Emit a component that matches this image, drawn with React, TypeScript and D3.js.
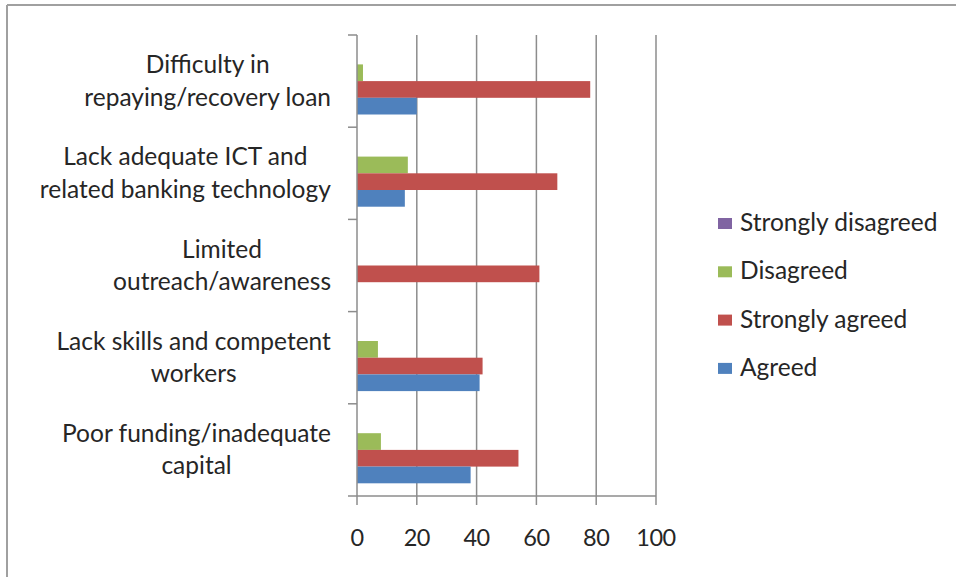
import React, { useEffect, useRef } from "react";
import * as d3 from "d3";

const categories = [
  "Difficulty in repaying/recovery loan",
  "Lack adequate ICT and related banking technology",
  "Limited outreach/awareness",
  "Lack skills and competent workers",
  "Poor funding/inadequate capital",
];
const categoryLines = [
  ["Difficulty in", "repaying/recovery loan"],
  ["Lack adequate ICT and", "related banking technology"],
  ["Limited", "outreach/awareness"],
  ["Lack skills and competent", "workers"],
  ["Poor funding/inadequate", "capital"],
];
const seriesNames = ["Strongly disagreed", "Disagreed", "Strongly agreed", "Agreed"];
const stronglyDisagreed = [0, 0, 0, 0, 0];
const disagreed = [2, 17, 0, 7, 8];
const stronglyAgreed = [78, 67, 61, 42, 54];
const agreed = [20, 16, 0, 41, 38];
const seriesValues = [stronglyDisagreed, disagreed, stronglyAgreed, agreed];
const seriesColors = ["#8064A2", "#9BBB59", "#C0504D", "#4F81BD"];
const xTicks = [0, 20, 40, 60, 80, 100];

const W = 956;
const H = 577;
const FONT = "Lato, 'Open Sans', sans-serif";

export default function App() {
  const ref = useRef<SVGSVGElement>(null);

  useEffect(() => {
    const svg = d3.select(ref.current);
    svg.selectAll("*").remove();

    // border
    svg.append("line").attr("x1", 7).attr("x2", 7).attr("y1", 5).attr("y2", H)
      .attr("stroke", "#a0a0a0").attr("stroke-width", 2);
    svg.append("line").attr("x1", 7).attr("x2", W).attr("y1", 5).attr("y2", 5)
      .attr("stroke", "#a0a0a0").attr("stroke-width", 2);

    const x = d3.scaleLinear().domain([0, 100]).range([357, 656]);
    const y = d3.scaleBand<string>().domain(categories).range([35, 496]).padding(0);
    const yInner = d3.scaleBand<string>().domain(seriesNames).range([0, y.bandwidth()])
      .paddingInner(0).paddingOuter(0.76);

    // gridlines
    svg.append("g").selectAll("line").data(xTicks.filter((t) => t > 0)).join("line")
      .attr("x1", (d) => x(d)).attr("x2", (d) => x(d))
      .attr("y1", 35).attr("y2", 505)
      .attr("stroke", "#8c8c8c").attr("stroke-width", 1.5);

    // bars
    const g = svg.append("g");
    seriesNames.forEach((s, si) => {
      g.append("g").selectAll("rect").data(seriesValues[si]).join("rect")
        .attr("x", x(0))
        .attr("y", (_d, i) => (y(categories[i]) as number) + (yInner(s) as number))
        .attr("width", (d) => x(d) - x(0))
        .attr("height", yInner.bandwidth())
        .attr("fill", seriesColors[si]);
    });

    // axes lines
    svg.append("line").attr("x1", x(0)).attr("x2", x(0)).attr("y1", 35).attr("y2", 505)
      .attr("stroke", "#8c8c8c").attr("stroke-width", 1.5);
    svg.append("line").attr("x1", 348).attr("x2", x(100)).attr("y1", 496).attr("y2", 496)
      .attr("stroke", "#8c8c8c").attr("stroke-width", 1.5);
    // category ticks
    const catEdges = categories.map((c) => y(c) as number);
    svg.append("g").selectAll("line").data(catEdges).join("line")
      .attr("x1", 348).attr("x2", x(0)).attr("y1", (d) => d).attr("y2", (d) => d)
      .attr("stroke", "#8c8c8c").attr("stroke-width", 1.5);

    // x tick labels
    svg.append("g").selectAll("text").data(xTicks).join("text")
      .attr("x", (d) => x(d)).attr("y", 546)
      .attr("text-anchor", "middle")
      .attr("font-family", FONT).attr("font-size", 23.5).attr("fill", "#262626")
      .attr("letter-spacing", -0.5)
      .text((d) => String(d));

    // category labels
    categoryLines.forEach((lines, i) => {
      const cy = (y(categories[i]) as number) + y.bandwidth() / 2;
      const tg = svg.append("g");
      const t = tg.append("text")
        .attr("text-anchor", "middle")
        .attr("font-family", FONT).attr("font-size", 24.5).attr("fill", "#262626");
      lines.forEach((ln, li) => {
        t.append("tspan").attr("x", 0).attr("y", cy - 8 + li * 32.5).text(ln);
      });
      const bb = (t.node() as SVGTextElement).getBBox();
      tg.attr("transform", `translate(${331 - bb.width / 2},0)`);
    });

    // legend
    const lg = svg.append("g");
    seriesNames.forEach((s, i) => {
      const ly = 223.5 + i * 48.3;
      lg.append("rect").attr("x", 718).attr("y", ly - 5.5).attr("width", 14).attr("height", 11)
        .attr("fill", seriesColors[i]);
      lg.append("text").attr("x", 740).attr("y", ly + 7.5)
        .attr("font-family", FONT).attr("font-size", 24.5).attr("fill", "#262626")
        .text(s);
    });
  }, []);

  return (
    <svg
      ref={ref}
      width={W}
      height={H}
      style={{ position: "absolute", left: 0, top: 0, background: "#fff" }}
    />
  );
}
